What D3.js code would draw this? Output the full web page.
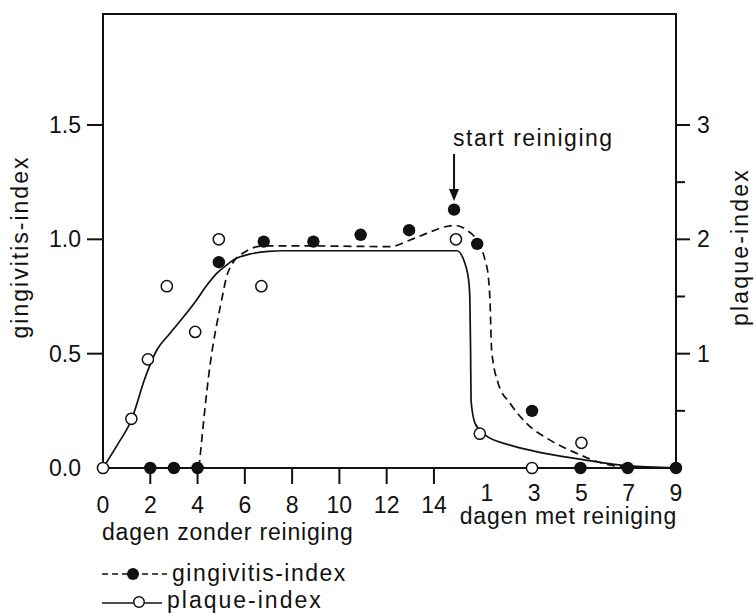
<!DOCTYPE html>
<html><head><meta charset="utf-8">
<script src="https://cdn.jsdelivr.net/npm/d3@7"></script>
<style>
body{margin:0;background:#fff;}
svg{display:block;}
text{font-family:"Liberation Sans",Arial,sans-serif;fill:#111;font-size:23px;}
</style></head><body>
<svg id="c" width="754" height="613"></svg>
<script>
// ---------- data ----------
const preDayTicks = [0, 2, 4, 6, 8, 10, 12, 14];        // dagen zonder reiniging
const postDayTicks = [1, 3, 5, 7, 9];                    // dagen met reiniging
const postStart = 15.24;                                 // day-axis position of "met reiniging" day 0
const gingivitisTicks = [0.5, 1.0, 1.5];
const gingivitisTickLabels = ["0.0", "0.5", "1.0", "1.5"];
const plaqueMajorTicks = [1, 2, 3];
const plaqueMinorTicks = [0.5, 1.5, 2.5];

// measured points (day axis position, index value)
const gingivitisDays   = [2, 3, 4, 4.9, 6.8, 8.9, 10.9, 12.95, 14.85, 15.83, 18.15, 20.2, 22.2, 24.24];
const gingivitisValues = [0, 0, 0, 0.90, 0.99, 0.99, 1.02, 1.04, 1.13, 0.98, 0.25, 0, 0, 0];
const plaqueDays   = [0, 1.2, 1.9, 2.7, 3.9, 4.9, 6.7, 14.93, 15.94, 18.15, 20.24];
const plaqueValues = [0, 0.43, 0.95, 1.59, 1.19, 2.0, 1.59, 2.0, 0.30, 0, 0.22];

// fitted curves as drawn in the figure
const gingivitisCurveDays   = [4.06, 4.52, 5.02, 5.23, 5.51, 5.93, 6.78, 9.0, 12.14, 12.99, 13.69, 14.47, 14.89, 15.38, 15.81, 16.16, 16.3, 16.37, 16.44, 16.72, 17.22, 17.92, 18.91, 20.04, 21.16, 22.17, 24.24];
const gingivitisCurveValues = [0, 0.443, 0.735, 0.837, 0.90, 0.94, 0.971, 0.971, 0.968, 0.997, 1.026, 1.055, 1.061, 1.041, 0.997, 0.91, 0.837, 0.735, 0.516, 0.37, 0.283, 0.195, 0.122, 0.064, 0.02, 0.004, 0];
const plaqueCurveDays   = [0, 0.6, 1.2, 1.8, 2.27, 2.8, 3.4, 3.96, 4.4, 4.8, 5.2, 5.6, 6.2, 7.0, 7.6, 14.97, 15.31, 15.48, 15.52, 15.55, 15.57, 15.74, 16.16, 17.22, 18.19, 20.18, 22.17, 24.24];
const plaqueCurveValues = [0, 0.2, 0.42, 0.8, 1.03, 1.17, 1.32, 1.47, 1.6, 1.70, 1.77, 1.83, 1.87, 1.895, 1.90, 1.90, 1.79, 1.62, 1.47, 1.03, 0.59, 0.39, 0.29, 0.20, 0.15, 0.077, 0.02, 0];

// ---------- layout ----------
const L = 103, R = 676, T = 14, B = 468;
const svg = d3.select("#c");
const x = d3.scaleLinear().domain([0, postStart + 9]).range([L, R]);
const yG = d3.scaleLinear().domain([0, 1.5]).range([B, 125]);
const yP = d3.scaleLinear().domain([0, 3]).range([B, 125]);
const ink = "#111";

// frame
svg.append("path").attr("d", `M${L},${B}V${T}H${R}V${B}H${L}`)
  .attr("fill", "none").attr("stroke", ink).attr("stroke-width", 2);

// x ticks (pre period)
const xt = svg.append("g");
preDayTicks.forEach(d => {
  if (d > 0) xt.append("line").attr("x1", x(d)).attr("x2", x(d)).attr("y1", B).attr("y2", B + 16)
    .attr("stroke", ink).attr("stroke-width", 2);
  xt.append("text").attr("x", x(d)).attr("y", B + 45).attr("text-anchor", "middle").text(d);
});
postDayTicks.forEach(d => {
  xt.append("text").attr("x", x(postStart + d)).attr("y", B + 33).attr("text-anchor", "middle").text(d);
});
svg.append("text").attr("x", L - 1).attr("y", 540).attr("letter-spacing", "0.8px").text("dagen zonder reiniging");
svg.append("text").attr("x", R + 1).attr("y", 524).attr("text-anchor", "end").attr("letter-spacing", "0.8px").text("dagen met reiniging");

// left axis
gingivitisTicks.forEach(v => {
  svg.append("line").attr("x1", L - 16).attr("x2", L).attr("y1", yG(v)).attr("y2", yG(v))
    .attr("stroke", ink).attr("stroke-width", 2);
});
[0, 0.5, 1.0, 1.5].forEach((v, i) => {
  svg.append("text").attr("x", 81).attr("y", yG(v) + 8).attr("text-anchor", "end").text(gingivitisTickLabels[i]);
});
svg.append("text").attr("transform", "translate(28,247) rotate(-90)").attr("text-anchor", "middle")
  .attr("letter-spacing", "2px").text("gingivitis-index");

// right axis
plaqueMajorTicks.forEach(v => {
  svg.append("line").attr("x1", R).attr("x2", R + 14).attr("y1", yP(v)).attr("y2", yP(v))
    .attr("stroke", ink).attr("stroke-width", 2);
  svg.append("text").attr("x", R + 21).attr("y", yP(v) + 8).text(v);
});
plaqueMinorTicks.forEach(v => {
  svg.append("line").attr("x1", R).attr("x2", R + 9).attr("y1", yP(v)).attr("y2", yP(v))
    .attr("stroke", ink).attr("stroke-width", 2);
});
svg.append("text").attr("transform", "translate(748,247) rotate(-90)").attr("text-anchor", "middle")
  .attr("letter-spacing", "2.2px").text("plaque-index");

// curves
const gLine = d3.line().x(d => x(d[0])).y(d => yG(d[1])).curve(d3.curveMonotoneX);
const pLine = d3.line().x(d => x(d[0])).y(d => yP(d[1])).curve(d3.curveMonotoneX);
svg.append("path").attr("d", pLine(d3.zip(plaqueCurveDays, plaqueCurveValues)))
  .attr("fill", "none").attr("stroke", ink).attr("stroke-width", 1.7);
svg.append("path").attr("d", gLine(d3.zip(gingivitisCurveDays, gingivitisCurveValues)))
  .attr("fill", "none").attr("stroke", ink).attr("stroke-width", 1.7).attr("stroke-dasharray", "8,5");

// points
svg.append("g").selectAll("circle").data(d3.zip(plaqueDays, plaqueValues)).join("circle")
  .attr("cx", d => x(d[0])).attr("cy", d => yP(d[1])).attr("r", 5.6)
  .attr("fill", "#fff").attr("stroke", ink).attr("stroke-width", 1.5);
svg.append("g").selectAll("circle").data(d3.zip(gingivitisDays, gingivitisValues)).join("circle")
  .attr("cx", d => x(d[0])).attr("cy", d => yG(d[1])).attr("r", 6.2).attr("fill", ink);

// annotation
const ax = x(14.85);
svg.append("text").attr("x", ax - 1).attr("y", 146).attr("letter-spacing", "1.5px").text("start reiniging");
svg.append("line").attr("x1", ax).attr("x2", ax).attr("y1", 154).attr("y2", 192).attr("stroke", ink).attr("stroke-width", 2);
svg.append("path").attr("d", `M${ax - 5},189L${ax + 5},189L${ax},201Z`).attr("fill", ink);

// legend
svg.append("line").attr("x1", 102).attr("x2", 167).attr("y1", 574).attr("y2", 574)
  .attr("stroke", ink).attr("stroke-width", 1.7).attr("stroke-dasharray", "6,4");
svg.append("circle").attr("cx", 133).attr("cy", 574).attr("r", 6).attr("fill", ink);
svg.append("text").attr("x", 172).attr("y", 581).attr("letter-spacing", "1.5px").text("gingivitis-index");
svg.append("line").attr("x1", 102).attr("x2", 162).attr("y1", 603).attr("y2", 603)
  .attr("stroke", ink).attr("stroke-width", 1.7);
svg.append("circle").attr("cx", 139).attr("cy", 602).attr("r", 5.3)
  .attr("fill", "#fff").attr("stroke", ink).attr("stroke-width", 1.5);
svg.append("text").attr("x", 167).attr("y", 608).attr("letter-spacing", "2px").text("plaque-index");
</script>
</body></html>
